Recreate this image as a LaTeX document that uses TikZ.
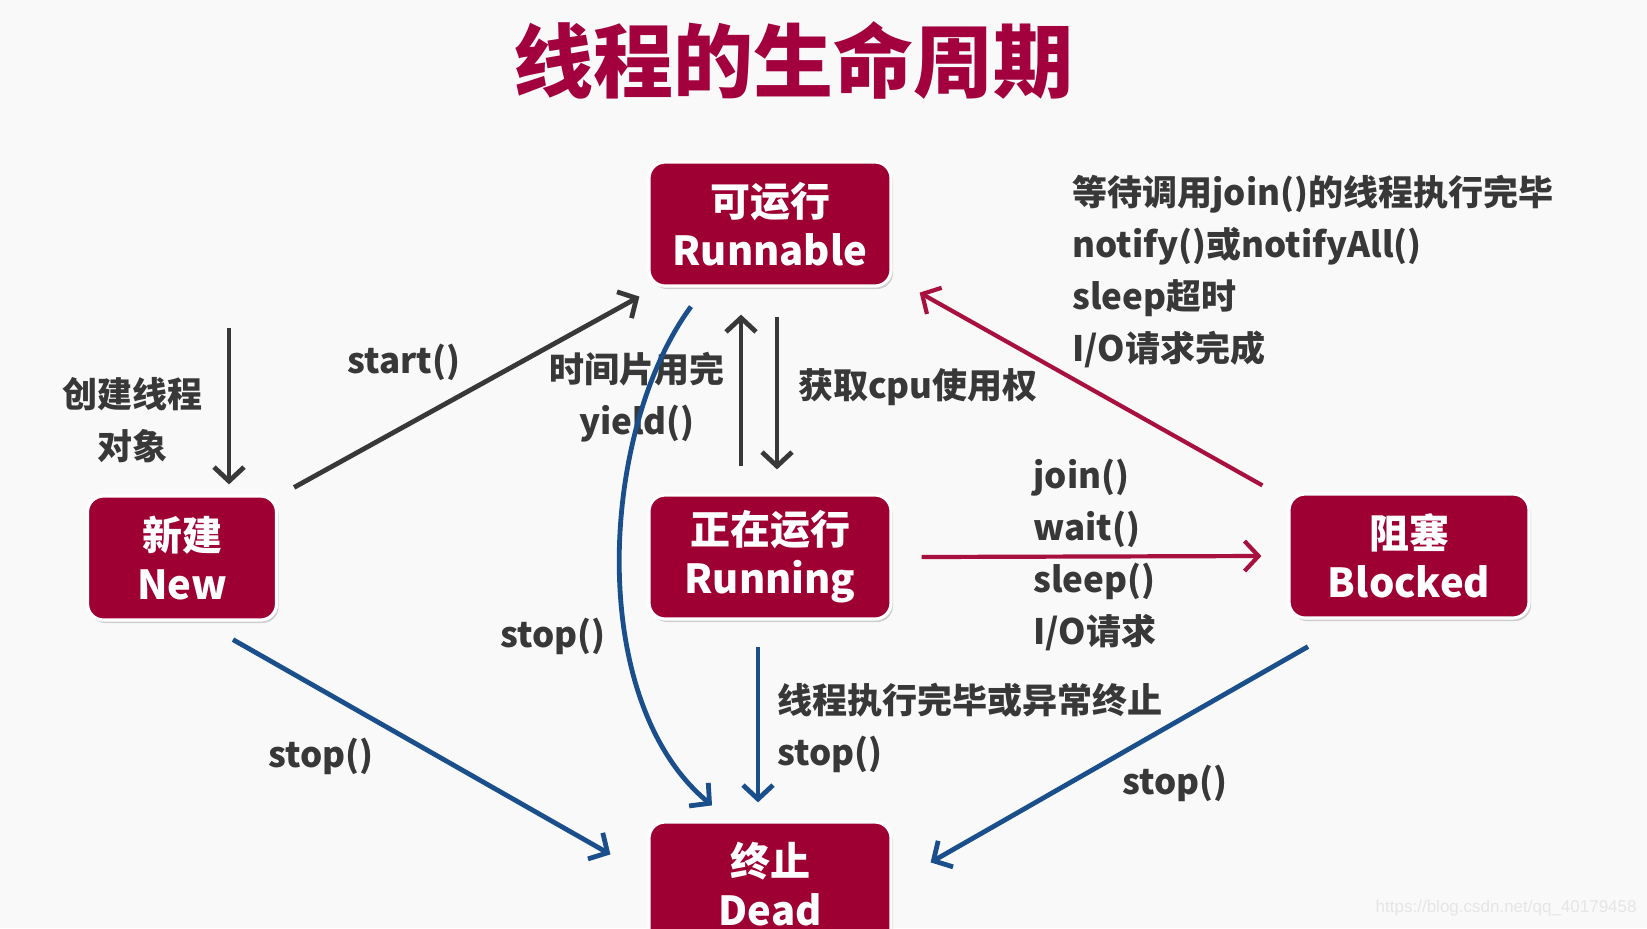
\documentclass[tikz,border=0pt]{standalone}
\usepackage{fontspec}
\setmainfont{Noto Sans CJK SC}
\newfontfamily\wmfont{Liberation Sans}
\usetikzlibrary{arrows.meta,calc,shadows}
\definecolor{boxred}{HTML}{9E0034}
\definecolor{arrowred}{HTML}{A8103F}
\definecolor{arrowblue}{HTML}{1B4F8C}
\definecolor{textgray}{HTML}{383838}
\definecolor{bgcol}{HTML}{F8F9F8}
\definecolor{titlered}{HTML}{A3003E}
\tikzset{
  state/.style={rounded corners=8pt, fill=boxred, draw=white, line width=1.6pt,
    minimum width=121pt, minimum height=62pt, text=white, align=center, inner sep=0pt,
    font=\bfseries\fontsize{20}{24.5}\selectfont,
    drop shadow={opacity=0.35, shadow xshift=1pt, shadow yshift=-1.5pt}},
  lbl/.style={text=textgray, font=\bfseries\fontsize{17.5}{26}\selectfont, inner sep=0pt},
  tipline/.style={line width=2.4pt, -{Straight Barb[length=7pt,width=15pt]}},
  grayarrow/.style={tipline, draw=textgray},
  redarrow/.style={tipline, draw=arrowred, line width=2.1pt},
  bluearrow/.style={tipline, draw=arrowblue},
}
\begin{document}
\begin{tikzpicture}[x=0.5pt,y=-0.5pt]
\clip (0,0) rectangle (1647,928);
\fill[bgcol] (0,0) rectangle (1647,928);

% title
\node[text=titlered, font=\bfseries\fontsize{40}{44}\selectfont, inner sep=0pt] (title) at (793,60) {线程的生命周期};

% states
\node[state] (runnable) at (770,224) {可运行\\Runnable};
\node[state, minimum width=94.5pt] (new) at (182,558) {新建\\New};
\node[state] (running) at (770,557) {正在运行\\Running};
\node[state, minimum width=120pt] (blocked) at (1409,556) {阻塞\\Blocked};
\node[state] (dead) at (770,884) {终止\\Dead};

% labels
\node[lbl, align=center] (lcreate) at (132,420) {创建线程\\对象};
\node[lbl] (lstart) at (404,362) {start()};
\node[lbl, align=center] (lyield) at (637,397) {时间片用完\\yield()};
\node[lbl] (lcpu) at (918,387) {获取cpu使用权};
\node[lbl, align=left, anchor=west] (lwake) at (1072,272) {等待调用join()的线程执行完毕\\notify()或notifyAll()\\sleep超时\\I/O请求完成};
\node[lbl, align=left, anchor=west] (lblock) at (1033,555) {join()\\wait()\\sleep()\\I/O请求};
\node[lbl] (lstop1) at (553,636) {stop()};
\node[lbl] (lstop2) at (321,756) {stop()};
\node[lbl, align=left, anchor=west] (lend) at (777,728) {线程执行完毕或异常终止\\stop()};
\node[lbl] (lstop3) at (1175,783) {stop()};

% connectors
\coordinate (cstart) at (229,328);
\draw[grayarrow] (cstart) -- ($(new.north)+(47,-10)$);
\draw[grayarrow] ($(new.north east)+(16,-7)$) -- ($(runnable.south west)+(-8,9)$);
\draw[grayarrow] ($(running.north)+(-29,-27)$) -- ($(runnable.south)+(-29,27)$);
\draw[grayarrow] ($(runnable.south)+(7,29)$) -- ($(running.north)+(7,-24)$);
\draw[bluearrow] ($(runnable.south)+(-79,19)$) .. controls (600,430) and (585,700) .. ($(dead.north)+(-58,-15)$);
\draw[redarrow] ($(running.east)+(29,0)$) -- ($(blocked.west)+(-26,0)$);
\draw[redarrow] ($(blocked.north west)+(-25,-7)$) -- ($(runnable.south east)+(27,5)$);
\draw[bluearrow] ($(new.south)+(51,18)$) -- ($(dead.north west)+(-37,34)$);
\draw[bluearrow] ($(running.south)+(-12,26)$) -- ($(dead.north)+(-12,-18)$);
\draw[bluearrow] ($(blocked.south)+(-101,27)$) -- ($(dead.north east)+(38,42)$);

% watermark
\node[text=black!10, font=\wmfont\fontsize{8.5}{10}\selectfont, inner sep=0pt, anchor=east] (wm) at (1637,908) {https://blog.csdn.net/qq\_40179458};
\end{tikzpicture}
\end{document}
